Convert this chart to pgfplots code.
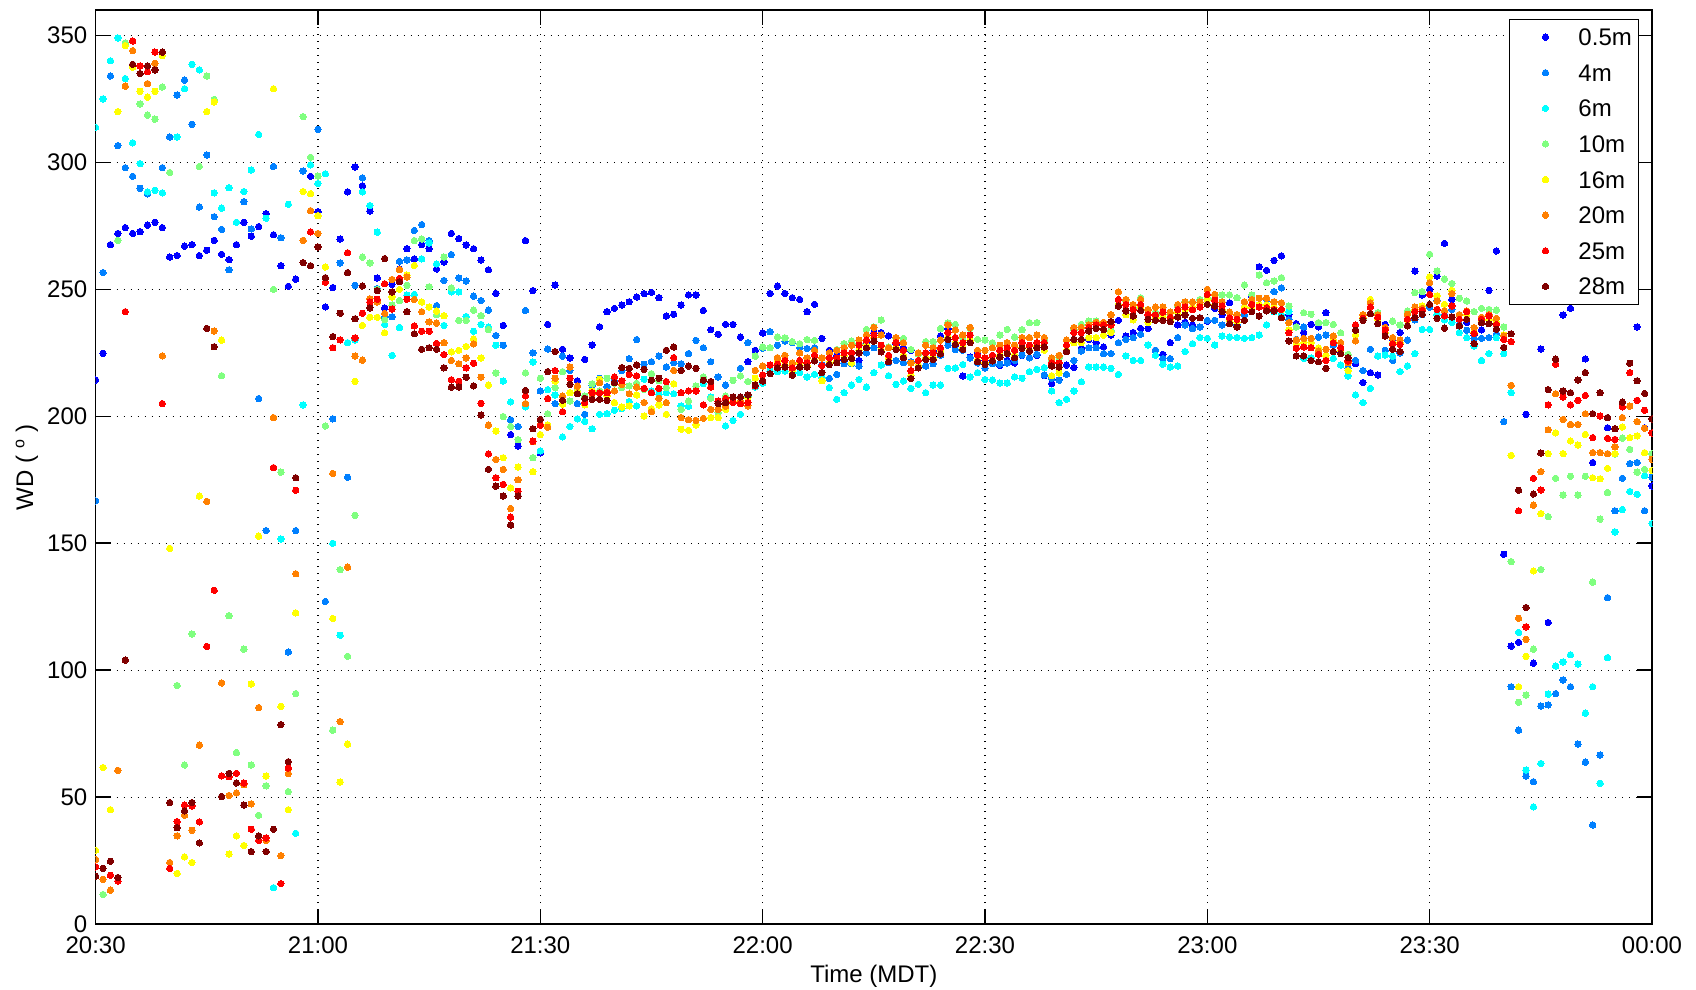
\documentclass[border=0pt]{standalone}
\usepackage{pgfplots}
\pgfplotsset{compat=1.18}
\usepackage{pgfplotstable}
\usepackage{fontspec}
\setmainfont{Liberation Sans}

% jet-like colours, one per measurement height
\definecolor{c05}{rgb}{0,0,1}
\definecolor{c4}{rgb}{0,0.5,1}
\definecolor{c6}{rgb}{0,1,1}
\definecolor{c10}{rgb}{0.5,1,0.5}
\definecolor{c16}{rgb}{1,1,0}
\definecolor{c20}{rgb}{1,0.5,0}
\definecolor{c25}{rgb}{1,0,0}
\definecolor{c28}{rgb}{0.5,0,0}

% t = minutes after 20:30 MDT; wind direction in degrees at each height
\pgfplotstableread{
t b0 b4 c g y o r d
0 214.3 166.7 313.8 nan 29.1 25.5 22.6 18.9
1 224.8 256.6 325 11.7 61.7 17.7 nan 22
2 267.6 334 340 nan 45.1 13.4 19.3 24.8
3 272 306.6 349 269.3 320 60.6 17 18.4
4 274.3 297.9 333 347 346 330 241.2 104
5 272 294.5 307.7 nan 337.5 344 347.8 338.6
6 272.7 289.8 299.5 323 328 nan 338 335
7 275.3 287.6 288.4 318.6 325.7 331 335.7 338
8 276.4 nan 289 317 328 339 343.4 336.4
9 274.3 297.9 288 329.7 342 223.8 205 343.4
10 262.7 310 nan 296 148 24.3 22 47.9
11 263.3 326.5 310 94 20 34.8 40.4 38
12 267 332.4 329 62.7 26.5 42.9 46.9 44.6
13 267.6 315 338.6 114.3 24.3 37 46.6 47.9
14 263.3 282.4 336.4 298.4 168.6 70.5 40.3 32
15 265.4 302.9 nan 334 320 166.5 109.4 234.6
16 269.3 278.6 288 324.8 323.8 233.6 131.5 227.4
17 263.8 273.6 282 216 230 95 58.4 50.3
18 261.7 257.7 290 121.5 27.6 50.7 58.1 59.4
19 267.6 nan 276.4 67.6 34.8 51.7 59.4 55.6
20 276.4 284.5 288.5 108.3 31 54.9 55.6 46.9
21 270.9 273.8 297 62.7 94.6 47.4 37.4 28.6
22 274.7 207 311 42.9 152.8 85.3 33 34.8
23 279.8 155 278 54.5 58.3 33 34 28.6
24 271.5 298.4 14.4 250 329 199.5 179.8 37.4
25 259.3 270.3 151.7 178 85.8 27 16 78.6
26 251.2 107.2 283.5 52.2 45.1 59.3 61.5 64
27 254 155 35.8 90.8 122.6 138 170.9 175.8
28 nan 296.6 204.5 318 288.5 269.3 nan 260.5
29 294.5 nan 299 302 287.7 281 272.6 259.3
30 280.6 313 291.7 294.6 279 272 nan 266.7
31 243.1 127.1 295.5 196.2 258.8 nan 252.8 254.6
32 250.7 199 150 76.4 120.4 177.5 227 231.4
33 269.8 260.4 113.8 139.6 56 79.8 230.1 240.6
34 288.4 176 229 105.5 70.9 140.6 264.4 256.6
35 298.2 251.6 230.1 161 213.8 223.7 230.9 238.4
36 290.8 293.9 288.4 262.7 235.8 222.1 240.6 251.3
37 280.8 nan 283 260.4 239 246.3 245 242.7
38 254.5 250.3 272.5 250 239 245 246.1 249.5
39 242.7 239 236.2 238.1 232.9 240.5 252.2 262.1
40 252 239.2 224 243.8 247 253.9 242.2 249
41 258 261 235 245.6 250 257.8 254.3 253
42 266 261.6 247.7 251.6 255.6 254.8 246.1 241.2
43 262 273.2 248 269.2 259.4 246 235.6 232.5
44 267.6 275.5 262 269.8 245 241.2 233.5 226.4
45 266 269.2 268.3 251 243 237.2 233.5 227
46 258 243.6 260 240 241.4 236.7 228.7 226.4
47 260.8 253.5 235.8 262.7 239.6 229 224.3 219.1
48 272 263.7 249 250.6 225.4 222 214.4 211.5
49 270 254.5 249 237.8 226 220.7 213.8 211.5
50 267.5 253.3 239.3 237.8 227.5 223 219.1 215.4
51 266 247.3 233.5 241.8 230.4 228.5 220.9 212
52 261.5 245.6 236.2 239.6 223 215.4 205.1 200.5
53 257.7 241.8 235.1 234.2 212.3 196.5 185.2 179.1
54 248.4 231.8 228 217.1 194.2 183 175.8 172.5
55 235.8 228 213.9 199.9 183.7 179.1 173.2 168.6
56 192.8 198.6 205.7 196 171.8 163.7 160.3 157.2
57 188.3 196 190.8 190.8 180 175 170.5 168.6
58 269.2 241.7 203.7 217.1 205 205 208 210.2
59 249.5 225 221.4 183.7 178.2 190 190.2 195.1
60 185.6 210 186.4 215 192.8 196.8 196.5 198.8
61 236.2 226.5 210.5 201 196.6 195.7 207 217.6
62 251.7 205 208.4 211.3 213.8 215 218 225.5
63 226.4 223.7 191.9 217.6 204.7 208 201.8 206.3
64 223 218 196 206 209.3 219.4 215 212.6
65 214 205 199 210 209.7 211.9 208.9 208.9
66 222.4 200.8 198 208 204.5 207 205.4 207.1
67 228.1 212.2 195.1 212.8 210 208.9 209.3 206.7
68 235.2 215 200.8 210 214.6 213.2 209.3 206.7
69 241.2 211.7 201 215 208 209.7 209.3 206.3
70 242.5 214 202.4 213 205.4 210 215.5 213.2
71 243.8 218 203 211.3 203.7 212.6 214 219.2
72 245.1 222.7 205.8 212 204.1 208.9 216.5 218.9
73 247 230.2 204.1 213 208.4 211.5 215.9 220.2
74 248.3 220.5 214.6 210.6 200.1 205.4 211 218.5
75 248.8 221.5 210 216.8 203 201.8 209.3 214.2
76 246.7 223.7 208.7 214 204.5 207.1 211 215
77 239.5 219.4 209.3 211.3 200.8 205.4 213.7 226
78 240.2 221.1 208.9 212.8 212.8 218.1 223.1 227.3
79 243.8 220.7 204.1 202.7 194.9 199.5 209.3 218.1
80 247.8 224.7 203.9 206 194.5 198.7 210 219.8
81 247.8 229.9 211.9 211.9 196.6 198.4 210 218.9
82 241.7 227 212.9 215.5 199.2 199.2 204.5 214.2
83 234.1 221.5 207.6 207.1 199.5 202.7 211.5 213.7
84 232.3 215.5 206 201.4 199.5 202.7 206 205
85 236.2 212.3 196.2 208 202.7 204 207 205.4
86 236.2 214.2 198.4 214.2 206 207.3 205.4 207.6
87 231.2 218.9 200.8 215.9 205 206 205 207.6
88 221.5 229 208 213.7 207.3 204.1 205.4 208.4
89 226 223.7 211.5 223.7 215 218.1 212 212.3
90 232.8 226.8 213 227.3 216.3 219.8 216.3 213.9
91 248.4 233.3 217.8 227 220.2 220.2 220.2 216.8
92 251.3 228 217.6 231.2 222 223.1 220.5 219.1
93 248.4 229.6 217.8 230.9 220 224 222 219.4
94 246.7 229 217 229.4 218 221 219 216.2
95 246 227 217.2 228.6 221 225 222 219.4
96 241.2 226.7 215.5 230.2 220 223 221 219.4
97 244.1 227 216.5 229.9 222 226 224 221.8
98 230.7 220.4 215.2 223 214 223 220 217.2
99 226 214.9 211.3 223 221 225 223 220.4
100 224 216.5 206.7 226.3 222 226 223 221.1
101 222 220.7 209.3 228.6 224 227 225 222.4
102 223 220.7 212.3 229.6 221 228 225 222.8
103 222 219.8 214.5 228.6 226 230 228 225
104 229 225 211.5 234.2 228 232 230 227
105 232.8 227 217.2 235.1 231 235 232 229.6
106 233 226 220.2 237.9 226 232 228 225.4
107 231.7 221.1 216 227.3 223 227 224 221.5
108 228.3 222 212.6 230.7 227 231 229 226.3
109 227 221.1 213.9 230.7 224 229 226 223.1
110 226 221.5 211 226.3 216 221 218 214.9
111 220 219.4 212.6 224.6 220 225 222 219.1
112 223 219.8 209.3 229.4 223 228 225 222.4
113 226 220.7 212.3 229.4 223 227 225 222.4
114 231.7 224 212.3 234.6 226 230 227 224.6
115 234.4 228 218.9 236.8 231 236 233 230.3
116 228 226.3 219 236.2 229 234 231 228.3
117 215.9 226 220.4 231.2 227 232 229 226.3
118 223.3 223 215.5 234.6 230 235 232 229
119 225 221 217.2 230.3 222 226 224 221.5
120 222 219 214.5 230 221 226 223 220.5
121 221.5 220.7 214.3 229 222 227 224 221.8
122 220 220.5 213.1 232 224 228 226 223.3
123 222 221 213.1 234.2 225 229 227 224.7
124 221 222 215.5 231.2 224 228 226 223.1
125 224 224.1 215 234.1 227 231 229 226.8
126 223 223 217.6 236.9 226 231 228 225.7
127 224 224.4 218.5 236.9 228 232 229 227
128 216 216.3 219.2 230 226 231 229 227.3
129 212.9 215 210 222 216 223 221 219.8
130 214.4 214.2 205.4 223.1 217 224 221 219.4
131 220.2 216.5 206.7 230 226 230 228 225.5
132 219.2 222 210 234 229 235 233 230.3
133 226.8 225.7 213.6 236.2 229 235 233 230.3
134 230.3 227 219.4 237.5 231 236 235 233.6
135 229 227 219.4 237.5 231 237 236 234.6
136 227.3 224.7 219.4 236.5 232 237 236 234.2
137 232 224.7 218.9 233.6 233 240 236 237.3
138 237.8 229 216.5 244 244 249 246 243.4
139 231.6 230.3 223.8 245.7 240 246 244 241.5
140 233 231 222 243 238 244 242 239.5
141 234.6 232.3 222 246.7 243 246 244 241.7
142 234.6 228.1 228.1 242.1 237 242 240 238.2
143 226 226 224 241 239 243 240 237.8
144 224.4 222.7 220.5 240 239 243 241 237.8
145 229 222.7 219.4 239.1 238 241 239 237.3
146 236 231 219.8 243.4 241 244 242 239.1
147 237 236 225.5 245.1 242 245 243 239.9
148 236 234.6 228.6 245.1 243 245 242 238.6
149 238.8 235.2 231 246 244 245 243 238.8
150 237.5 237.8 230.7 246.5 246 250 248 244.1
151 242.5 237.8 228.1 246.5 244 248 245.7 243.4
152 240 236 231.6 247.8 242 245 243.4 241.2
153 244.7 238 231.2 247.8 238 241 238.8 236.5
154 240 236 231 246.7 237 240 238.2 235.2
155 243 240 230.7 251.7 243 245.1 241.5 237.8
156 247 243 231 247.8 243 246 244.1 241.2
157 258.9 244 232 255.6 244 246.5 243 239.5
158 257.5 246 236 252.6 244 246.5 242.8 241.5
159 261.4 249.1 241.2 253.3 243 245.1 242.1 241.5
160 263.2 250.6 240 254.6 242 244.7 242.1 238.8
161 240 238 241.2 243.4 234 236.9 232.9 229.7
162 236.5 230.3 230 235.2 228.5 230 226.8 223.8
163 233 235.2 222.8 240.8 229 230.7 227.3 223.8
164 236.2 229 223 240.2 229 230.7 227 222
165 235.2 231.2 225 236.9 227 225.7 224.4 221.5
166 240.8 232 224 236.9 224 226.4 222 218.9
167 230 228 222.8 236.2 230 231.6 229 225.5
168 225 226 220.2 232.9 226 229 227 224.7
169 222 219 215.9 224.4 218 221.1 221.8 223.1
170 220.7 222 208.4 233.9 232 229.7 236 233.9
171 213.3 218 205.4 238 239 240 238.6 237.8
172 217.2 226.4 211 244.7 246 244.7 243 240.4
173 216.3 223.7 223.7 240.8 238 240 239 236.5
174 236.2 226 224.1 234.6 233 235 234 231.6
175 230.3 222 223.7 237.5 229 231 228.6 226.4
176 233 225 217.6 236 229 230 228.3 225.5
177 238.2 230 219.8 241.5 238 240.2 238.2 235.6
178 257.2 238 224.7 248.7 242 243 241.2 238.8
179 247.8 240 234.2 249.1 243.5 242.5 241.7 240.2
180 250 243 234.2 263.8 254.9 252.6 248 244.1
181 255.2 245.7 240 257.2 247.4 245.4 242.1 238.6
182 268.1 240 238 254 244.1 241.5 239.5 234.7
183 246 242.1 237 252.3 249.6 248.3 243.5 239.1
184 240 236 233 246.5 240 240 238.2 235.6
185 237 233.9 231 245.4 240 241.5 241.2 238.2
186 232 230.7 227.7 241.2 233 234.9 232.6 228.6
187 234 230.7 222 242.5 237 239 238.2 236.9
188 249.6 231 224.7 242.1 238 240 239.5 236.5
189 265.1 232.3 231 241.8 237 238.6 236.2 234.3
190 145.7 197.9 224.7 235.2 232 231.7 230.3 227.1
191 109.5 93.5 209.3 142.8 184.6 212.2 229.4 232.5
192 111 76.4 114.9 87.4 93.5 120.5 162.8 170.9
193 200.8 58.3 60.7 90.2 105.5 112.2 117.1 124.7
194 102.8 56.1 46.2 108.3 139.1 165 175.6 169.4
195 226.5 85.9 63.3 139.7 161.7 178.2 171 185.5
196 118.8 86.4 90.6 160.5 185.3 194.7 204.5 210.5
197 nan 90.8 101.7 175.6 193.5 208.9 220.5 222.5
198 239.9 96.2 103.3 169 185.3 198.8 207.6 210
199 242.5 93.5 106.1 176.4 190.3 196.8 204.5 209.3
200 nan 70.9 102.4 169 188.7 196.8 206.3 214.3
201 222.6 63.8 83.1 176.4 192.9 201 208.2 217.2
202 181.8 39.1 93.5 134.7 175.8 185.7 191.6 201
203 nan 66.6 55.5 159.5 175.4 185.7 200.1 209.3
204 195.5 128.6 105 170 179.5 185.3 191.3 199.5
205 nan 162.8 154.5 185.1 185.3 188 190.9 195.1
206 nan 175.6 163.3 191.4 195.8 199.5 203.7 205.6
207 nan 181.4 170.4 187 191.6 204 217.2 220.9
208 235.2 181.8 169.3 178 192.3 197.9 206.3 214
209 195.5 162.8 176.6 179.1 185.7 195.3 202.4 209
210 172.6 176 157.8 185.3 178.7 183.1 193.5 199
}\wddata

% one filled dot per sample, in the height's colour
\pgfplotsset{wdmark/.style={only marks, mark=*, mark size=1.6pt, color=#1, mark options={draw=#1, fill=#1, line width=0pt}}}

\begin{document}
\begin{tikzpicture}
% page extent: axis box plus room for labels (axis sits with its south west corner at the origin)
\useasboundingbox (-47.8pt,-32.5pt) rectangle (800pt,462pt);
\begin{axis}[
  width=778pt, height=457pt, scale only axis,
  xmin=0, xmax=210, ymin=0, ymax=360,
  xtick={0,30,...,210},
  xticklabels={20:30,21:00,21:30,22:00,22:30,23:00,23:30,00:00},
  ytick={0,50,...,350},
  grid=major,
  major grid style={black, line width=0.7pt, dash pattern=on 0.7pt off 2.8pt},
  tick align=inside,
  major tick length=7.5pt,
  tick style={black, line width=0.8pt},
  axis line style={black, line width=0.8pt},
  tick label style={font=\fontsize{12}{14}\selectfont, inner sep=1pt},
  xticklabel style={yshift=-5pt},
  yticklabel style={xshift=-3pt},
  label style={font=\fontsize{12}{14}\selectfont},
  xlabel style={yshift=-1pt},
  /pgf/number format/assume math mode=true,
  xlabel={Time (MDT)},
  ylabel={WD ( \textsuperscript{o} )},
  clip marker paths=true,
  legend image code/.code={\path[draw=none, fill=none] (0pt,0pt) rectangle (31pt,0.1pt); \draw[#1] plot coordinates {(14.5pt,0pt)};},
  legend style={at={(0.9918,0.990)}, anchor=north east, draw=black, fill=white,
    inner xsep=3.5pt, inner ysep=4.5pt, row sep=9.2pt,
    font=\fontsize{12}{14}\selectfont,
    nodes={inner sep=0pt, text height=8.6pt, text depth=0pt},
    cells={anchor=west}},
]
\addplot[wdmark=c05] table[x=t, y=b0] {\wddata};
\addlegendentry{0.5m}
\addplot[wdmark=c4] table[x=t, y=b4] {\wddata};
\addlegendentry{4m}
\addplot[wdmark=c6] table[x=t, y=c] {\wddata};
\addlegendentry{6m}
\addplot[wdmark=c10] table[x=t, y=g] {\wddata};
\addlegendentry{10m}
\addplot[wdmark=c16] table[x=t, y=y] {\wddata};
\addlegendentry{16m}
\addplot[wdmark=c20] table[x=t, y=o] {\wddata};
\addlegendentry{20m}
\addplot[wdmark=c25] table[x=t, y=r] {\wddata};
\addlegendentry{25m}
\addplot[wdmark=c28] table[x=t, y=d] {\wddata};
\addlegendentry{28m}
\end{axis}
\end{tikzpicture}
\end{document}
